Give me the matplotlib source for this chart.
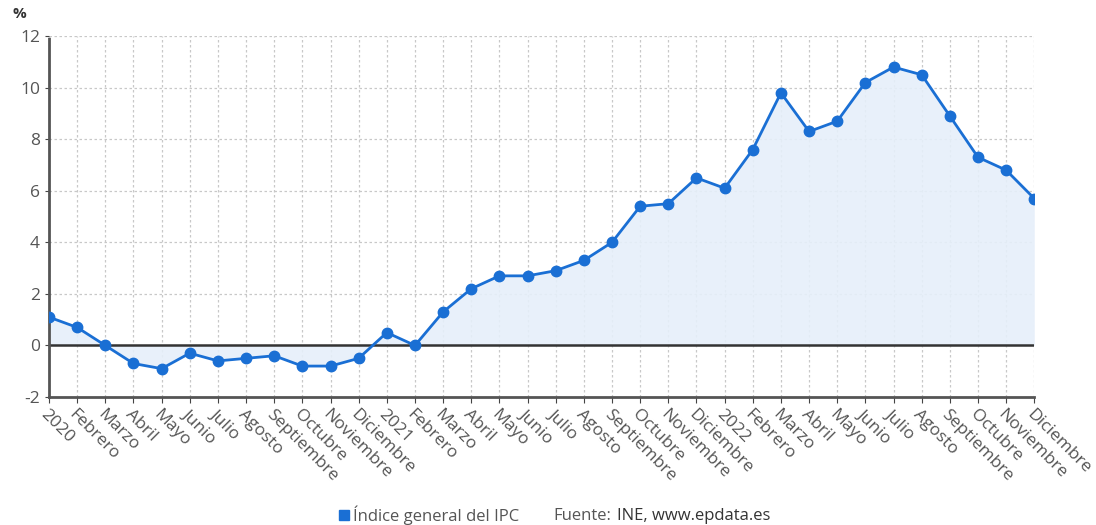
import matplotlib.pyplot as plt
import numpy as np

months = ["Febrero", "Marzo", "Abril", "Mayo", "Junio", "Julio", "Agosto",
          "Septiembre", "Octubre", "Noviembre", "Diciembre"]
labels = ["2020"] + months + ["2021"] + months + ["2022"] + months
ipc = [1.1, 0.7, 0.0, -0.7, -0.9, -0.3, -0.6, -0.5, -0.4, -0.8, -0.8, -0.5,
       0.5, 0.0, 1.3, 2.2, 2.7, 2.7, 2.9, 3.3, 4.0, 5.4, 5.5, 6.5,
       6.1, 7.6, 9.8, 8.3, 8.7, 10.2, 10.8, 10.5, 8.9, 7.3, 6.8, 5.7]
yticks = [-2, 0, 2, 4, 6, 8, 10, 12]

plt.rcParams["font.family"] = ["Open Sans", "DejaVu Sans"]
plt.rcParams["axes.unicode_minus"] = False
blue = "#1a6fd4"
grey = "#555555"

fig = plt.figure(figsize=(10.96, 5.25), dpi=100)
ax = fig.add_axes([0.0447, 0.2438, 0.899, 0.6874])

x = np.arange(len(ipc))
ax.fill_between(x, ipc, 0, color="#e6effa", alpha=0.9, lw=0)
ax.axhline(0, color="#333333", lw=1.8, zorder=2)
ax.plot(x, ipc, color=blue, lw=2, marker="o", ms=7.5, zorder=3)

ax.set_xlim(0, len(ipc) - 1)
ax.set_ylim(-2, 12)
ax.set_yticks(yticks)
ax.set_xticks(x)
ax.set_xticklabels(labels, rotation=-45, ha="left", va="top",
                   rotation_mode="anchor", fontsize=12.5, color=grey)
ax.tick_params(axis="y", labelsize=12.5, labelcolor=grey, length=3, color="#444444")
ax.tick_params(axis="x", length=4, color="#444444", pad=3)
ax.grid(True, color="#c8c8c8", ls=(0, (2, 2)), lw=0.9)
ax.set_axisbelow(True)
for s in ["top", "right"]:
    ax.spines[s].set_visible(False)
for s in ["left", "bottom"]:
    ax.spines[s].set_color("#555555")
    ax.spines[s].set_linestyle((0, (1, 1)))
    ax.spines[s].set_linewidth(2)

fig.text(0.011, 0.965, "%", fontsize=11, fontweight="bold", color="#333333")

fig.patches.append(plt.Rectangle((0.309, 0.0095), 0.0095, 0.02, color=blue,
                                 transform=fig.transFigure))
fig.text(0.322, 0.018, "Índice general del IPC", fontsize=12, color=grey, va="center")
src = fig.text(0.505, 0.018, "Fuente:", fontsize=12, color=grey, va="center")
fig.text(0, 0, "")
ax.annotate("INE, www.epdata.es", xy=(1, 0.5), xycoords=src,
            xytext=(4, 0), textcoords="offset points",
            fontsize=12, color="#333333", va="center", ha="left",
            annotation_clip=False)

fig.savefig("out.png", dpi=100)
